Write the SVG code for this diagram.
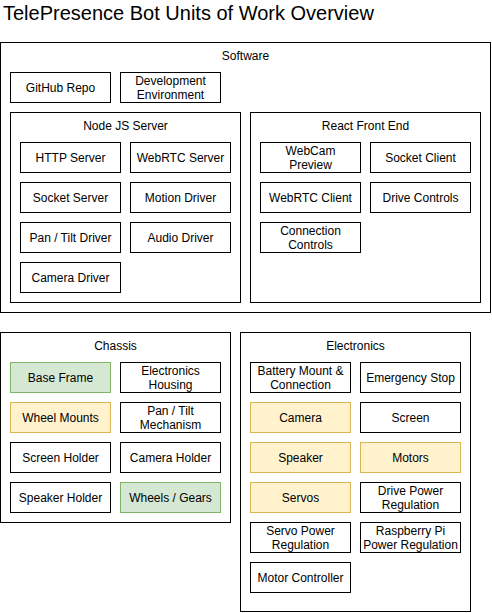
<svg xmlns="http://www.w3.org/2000/svg" width="492" height="613" viewBox="0 0 492 613">
<style>
rect{fill:#ffffff;stroke:#000000;stroke-width:1}
.g{fill:#d5e8d4;stroke:#82b366}
.y{fill:#fff2cc;stroke:#d6b656}
text{font-family:"Liberation Sans",Arial,sans-serif;font-size:12px;fill:#000000;text-anchor:middle}
.t{font-size:20px;text-anchor:start}
</style>
<rect x="0" y="0" width="492" height="613" style="fill:#ffffff;stroke:none"/>
<text class="t" x="3" y="20">TelePresence Bot Units of Work Overview</text>

<g id="software">
<rect x="0.5" y="42.5" width="490" height="270"/>
<text x="245.5" y="60">Software</text>
</g>
<g id="github-repo"><rect x="10.5" y="72.5" width="100" height="30"/><text x="60.5" y="92">GitHub Repo</text></g>
<g id="dev-env"><rect x="120.5" y="72.5" width="100" height="30"/><text x="170.5" y="85">Development</text><text x="170.5" y="99">Environment</text></g>

<g id="node-js-server">
<rect x="10.5" y="112.5" width="230" height="190"/>
<text x="125.5" y="130">Node JS Server</text>
</g>
<g id="http-server"><rect x="20.5" y="142.5" width="100" height="30"/><text x="70.5" y="162">HTTP Server</text></g>
<g id="webrtc-server"><rect x="130.5" y="142.5" width="100" height="30"/><text x="180.5" y="162">WebRTC Server</text></g>
<g id="socket-server"><rect x="20.5" y="182.5" width="100" height="30"/><text x="70.5" y="202">Socket Server</text></g>
<g id="motion-driver"><rect x="130.5" y="182.5" width="100" height="30"/><text x="180.5" y="202">Motion Driver</text></g>
<g id="pan-tilt-driver"><rect x="20.5" y="222.5" width="100" height="30"/><text x="70.5" y="242">Pan / Tilt Driver</text></g>
<g id="audio-driver"><rect x="130.5" y="222.5" width="100" height="30"/><text x="180.5" y="242">Audio Driver</text></g>
<g id="camera-driver"><rect x="20.5" y="262.5" width="100" height="30"/><text x="70.5" y="282">Camera Driver</text></g>

<g id="react-front-end">
<rect x="250.5" y="112.5" width="230" height="190"/>
<text x="365.5" y="130">React Front End</text>
</g>
<g id="webcam-preview"><rect x="260.5" y="142.5" width="100" height="30"/><text x="310.5" y="155">WebCam</text><text x="310.5" y="169">Preview</text></g>
<g id="socket-client"><rect x="370.5" y="142.5" width="100" height="30"/><text x="420.5" y="162">Socket Client</text></g>
<g id="webrtc-client"><rect x="260.5" y="182.5" width="100" height="30"/><text x="310.5" y="202">WebRTC Client</text></g>
<g id="drive-controls"><rect x="370.5" y="182.5" width="100" height="30"/><text x="420.5" y="202">Drive Controls</text></g>
<g id="connection-controls"><rect x="260.5" y="222.5" width="100" height="30"/><text x="310.5" y="235">Connection</text><text x="310.5" y="249">Controls</text></g>

<g id="chassis">
<rect x="0.5" y="332.5" width="230" height="190"/>
<text x="115.5" y="350">Chassis</text>
</g>
<g id="base-frame"><rect class="g" x="10.5" y="362.5" width="100" height="30"/><text x="60.5" y="382">Base Frame</text></g>
<g id="electronics-housing"><rect x="120.5" y="362.5" width="100" height="30"/><text x="170.5" y="375">Electronics</text><text x="170.5" y="389">Housing</text></g>
<g id="wheel-mounts"><rect class="y" x="10.5" y="402.5" width="100" height="30"/><text x="60.5" y="422">Wheel Mounts</text></g>
<g id="pan-tilt-mechanism"><rect x="120.5" y="402.5" width="100" height="30"/><text x="170.5" y="415">Pan / Tilt</text><text x="170.5" y="429">Mechanism</text></g>
<g id="screen-holder"><rect x="10.5" y="442.5" width="100" height="30"/><text x="60.5" y="462">Screen Holder</text></g>
<g id="camera-holder"><rect x="120.5" y="442.5" width="100" height="30"/><text x="170.5" y="462">Camera Holder</text></g>
<g id="speaker-holder"><rect x="10.5" y="482.5" width="100" height="30"/><text x="60.5" y="502">Speaker Holder</text></g>
<g id="wheels-gears"><rect class="g" x="120.5" y="482.5" width="100" height="30"/><text x="170.5" y="502">Wheels / Gears</text></g>

<g id="electronics">
<rect x="240.5" y="332.5" width="230" height="279"/>
<text x="355.5" y="350">Electronics</text>
</g>
<g id="battery-mount"><rect x="250.5" y="362.5" width="100" height="30"/><text x="300.5" y="375">Battery Mount &amp;</text><text x="300.5" y="389">Connection</text></g>
<g id="emergency-stop"><rect x="360.5" y="362.5" width="100" height="30"/><text x="410.5" y="382">Emergency Stop</text></g>
<g id="camera"><rect class="y" x="250.5" y="402.5" width="100" height="30"/><text x="300.5" y="422">Camera</text></g>
<g id="screen"><rect x="360.5" y="402.5" width="100" height="30"/><text x="410.5" y="422">Screen</text></g>
<g id="speaker"><rect class="y" x="250.5" y="442.5" width="100" height="30"/><text x="300.5" y="462">Speaker</text></g>
<g id="motors"><rect class="y" x="360.5" y="442.5" width="100" height="30"/><text x="410.5" y="462">Motors</text></g>
<g id="servos"><rect class="y" x="250.5" y="482.5" width="100" height="30"/><text x="300.5" y="502">Servos</text></g>
<g id="drive-power"><rect x="360.5" y="482.5" width="100" height="30"/><text x="410.5" y="495">Drive Power</text><text x="410.5" y="509">Regulation</text></g>
<g id="servo-power"><rect x="250.5" y="522.5" width="100" height="30"/><text x="300.5" y="535">Servo Power</text><text x="300.5" y="549">Regulation</text></g>
<g id="rpi-power"><rect x="360.5" y="522.5" width="100" height="30"/><text x="410.5" y="535">Raspberry Pi</text><text x="410.5" y="549">Power Regulation</text></g>
<g id="motor-controller"><rect x="250.5" y="562.5" width="100" height="30"/><text x="300.5" y="582">Motor Controller</text></g>

<g id="connectors"></g>
</svg>
